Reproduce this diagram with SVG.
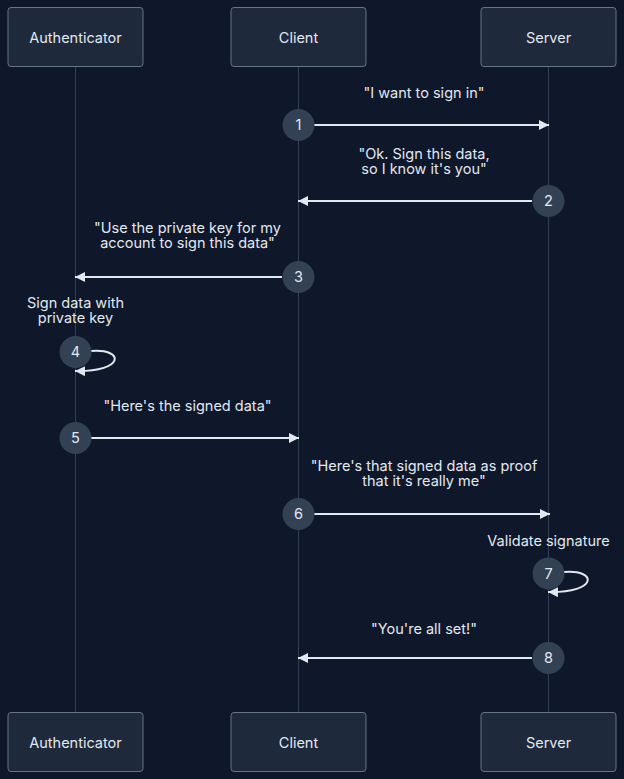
<svg xmlns="http://www.w3.org/2000/svg" width="624" height="779" viewBox="0 0 624 779">
<defs>
<style>
.bg{fill:#0f172a}
.box{fill:#1e293b;stroke:#64748b;stroke-width:1}
.life{stroke:#334155;stroke-width:1}
.t{font-family:Inter,"Liberation Sans",sans-serif;font-size:14.5px;fill:#e2e8f0;text-anchor:middle}
.msg{stroke:#e2e8f0;stroke-width:2;fill:none}
.num{fill:#334155}
.n{font-family:Inter,"Liberation Sans",sans-serif;font-size:14.5px;fill:#e2e8f0;text-anchor:middle}
</style>
<marker id="ah" viewBox="0 0 10 10" refX="10" refY="5" markerWidth="5" markerHeight="5" orient="auto" markerUnits="strokeWidth">
<path d="M0,0 L10,5 L0,10 z" fill="#e2e8f0"/>
</marker>
</defs>
<rect class="bg" x="0" y="0" width="624" height="779"/>
<g id="lifelines">
<line class="life" x1="75.5" y1="67" x2="75.5" y2="712"/>
<line class="life" x1="298.5" y1="67" x2="298.5" y2="712"/>
<line class="life" x1="548.5" y1="67" x2="548.5" y2="712"/>
</g>
<g id="node-authenticator-top"><rect class="box" x="8" y="7.5" width="135" height="59" rx="3"/><text class="t" x="75.5" y="43">Authenticator</text></g>
<g id="node-client-top"><rect class="box" x="231" y="7.5" width="135" height="59" rx="3"/><text class="t" x="298.5" y="43">Client</text></g>
<g id="node-server-top"><rect class="box" x="481" y="7.5" width="135" height="59" rx="3"/><text class="t" x="548.5" y="43">Server</text></g>
<g id="node-authenticator-bottom"><rect class="box" x="8" y="712.5" width="135" height="59" rx="3"/><text class="t" x="75.5" y="748">Authenticator</text></g>
<g id="node-client-bottom"><rect class="box" x="231" y="712.5" width="135" height="59" rx="3"/><text class="t" x="298.5" y="748">Client</text></g>
<g id="node-server-bottom"><rect class="box" x="481" y="712.5" width="135" height="59" rx="3"/><text class="t" x="548.5" y="748">Server</text></g>
<g id="connectors">
<line class="msg" x1="314" y1="125" x2="549" y2="125" marker-end="url(#ah)"/>
<line class="msg" x1="532" y1="201" x2="298" y2="201" marker-end="url(#ah)"/>
<line class="msg" x1="282" y1="277" x2="75" y2="277" marker-end="url(#ah)"/>
<path class="msg" d="M91,351 C124,348 126,372 75,371" marker-end="url(#ah)"/>
<line class="msg" x1="91" y1="438" x2="299" y2="438" marker-end="url(#ah)"/>
<line class="msg" x1="314" y1="514" x2="550" y2="514" marker-end="url(#ah)"/>
<path class="msg" d="M564,572 C597,569 599,593 548,592" marker-end="url(#ah)"/>
<line class="msg" x1="532" y1="658" x2="298" y2="658" marker-end="url(#ah)"/>
</g>
<g id="labels">
<text class="t" x="424" y="98">"I want to sign in"</text>
<text class="t" x="424" y="159">"Ok. Sign this data,</text>
<text class="t" x="424" y="174">so I know it's you"</text>
<text class="t" x="187.5" y="233">"Use the private key for my</text>
<text class="t" x="187.5" y="248">account to sign this data"</text>
<text class="t" x="75.5" y="308">Sign data with</text>
<text class="t" x="75.5" y="323">private key</text>
<text class="t" x="187.5" y="411">"Here's the signed data"</text>
<text class="t" x="424" y="471">"Here's that signed data as proof</text>
<text class="t" x="424" y="486">that it's really me"</text>
<text class="t" x="548.5" y="546">Validate signature</text>
<text class="t" x="424" y="634">"You're all set!"</text>
</g>
<g id="step-1"><circle class="num" cx="298.5" cy="125" r="16"/><text class="n" x="298.5" y="130">1</text></g>
<g id="step-2"><circle class="num" cx="548.5" cy="201" r="16"/><text class="n" x="548.5" y="206">2</text></g>
<g id="step-3"><circle class="num" cx="298.5" cy="277" r="16"/><text class="n" x="298.5" y="282">3</text></g>
<g id="step-4"><circle class="num" cx="75.5" cy="352" r="16"/><text class="n" x="75.5" y="357">4</text></g>
<g id="step-5"><circle class="num" cx="75.5" cy="438" r="16"/><text class="n" x="75.5" y="443">5</text></g>
<g id="step-6"><circle class="num" cx="298.5" cy="514" r="16"/><text class="n" x="298.5" y="519">6</text></g>
<g id="step-7"><circle class="num" cx="548.5" cy="573.5" r="16"/><text class="n" x="548.5" y="578.5">7</text></g>
<g id="step-8"><circle class="num" cx="548.5" cy="658" r="16"/><text class="n" x="548.5" y="663">8</text></g>
</svg>
